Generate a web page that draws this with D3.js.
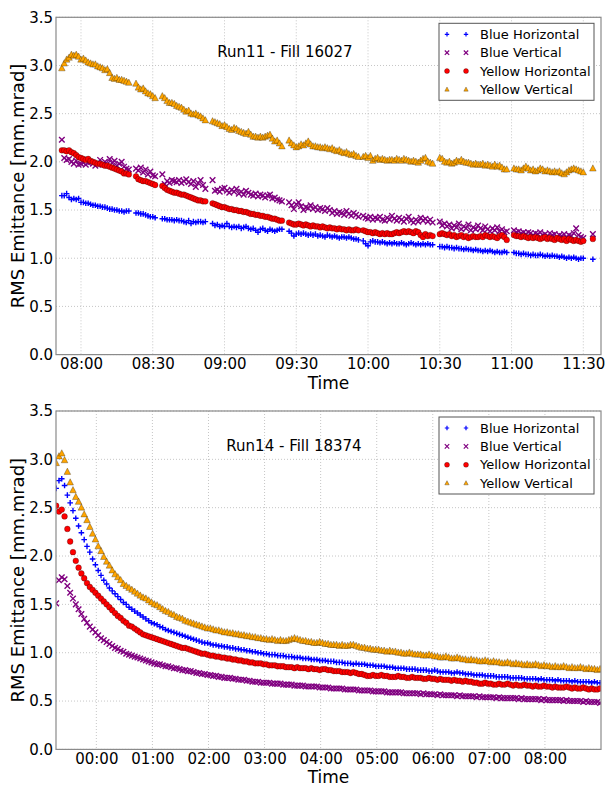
<!DOCTYPE html>
<html lang="en">
<head>
    <meta charset="UTF-8">
    <title>RMS Emittance vs Time</title>
    <script src="https://d3js.org/d3.v7.min.js"></script>
    <style>
body {
    margin: 0;
    background: #fff;
    font-family: "DejaVu Sans", sans-serif;
}
svg {
    display: block;
}
.grid line {
    stroke: #b8b8b8;
    stroke-width: 0.8;
    stroke-dasharray: 1,2;
}
.tick-label {
    font-size: 15px;
    fill: #000;
}
    </style>
</head>
<body>
    <svg id="chart" width="607" height="788"></svg>

    <script>
const seriesNames = ["Blue Horizontal", "Blue Vertical", "Yellow Horizontal", "Yellow Vertical"];
const yTicks = [0, 0.5, 1.0, 1.5, 2.0, 2.5, 3.0, 3.5];

// ---- Run11 - Fill 16027: one reading per minute, in segments
const run11Title = "Run11 - Fill 16027";
const run11Ticks = ["08:00", "08:30", "09:00", "09:30", "10:00", "10:30", "11:00", "11:30"];
const run11SegStarts = ["07:52", "08:23", "08:34", "08:55", "09:27", "09:58", "10:30", "11:01", "11:34"];

const run11BlueH = [
    [1.65,1.65,1.67,1.63,1.61,1.62,1.61,1.62,1.58,1.58,1.57,1.57,1.56,1.55,1.55,1.54,1.54,1.53,1.53,1.52,1.51,1.51,1.50,1.50,1.49,1.49,1.48,1.49,1.49],
    [1.47,1.47,1.46,1.46,1.45,1.44,1.43,1.43,1.42],
    [1.41,1.41,1.40,1.40,1.40,1.39,1.40,1.39,1.39,1.38,1.37,1.39,1.36,1.38,1.37,1.38,1.38,1.37,1.38],
    [1.36,1.34,1.35,1.33,1.34,1.33,1.36,1.33,1.32,1.33,1.32,1.33,1.31,1.32,1.33,1.31,1.30,1.31,1.29,1.27,1.30,1.31,1.29,1.28,1.30,1.29,1.28,1.29,1.30,1.30],
    [1.28,1.26,1.23,1.25,1.26,1.25,1.26,1.25,1.24,1.25,1.24,1.25,1.23,1.24,1.23,1.22,1.24,1.23,1.22,1.23,1.22,1.21,1.22,1.22,1.21,1.22,1.21,1.20,1.20,1.19],
    [1.18,1.15,1.13,1.17,1.18,1.17,1.17,1.16,1.17,1.16,1.15,1.16,1.15,1.16,1.15,1.15,1.16,1.15,1.14,1.15,1.16,1.15,1.14,1.15,1.14,1.15,1.14,1.15,1.14,1.14],
    [1.12,1.12,1.11,1.12,1.11,1.11,1.10,1.11,1.10,1.10,1.09,1.10,1.09,1.09,1.08,1.09,1.08,1.08,1.07,1.08,1.07,1.08,1.07,1.06,1.07,1.06,1.06,1.07,1.06],
    [1.06,1.05,1.05,1.04,1.05,1.04,1.04,1.03,1.04,1.03,1.03,1.04,1.03,1.02,1.03,1.02,1.03,1.02,1.02,1.01,1.02,1.01,1.00,1.01,1.00,1.01,1.00,0.99,1.00,1.00],
    [0.99]
];
const run11BlueV = [
    [2.23,2.04,2.02,2.03,2.00,1.98,2.01,1.97,1.98,1.99,1.97,1.99,2.00,1.98,1.96,1.99,2.02,1.97,2.00,1.98,2.03,1.99,2.01,1.96,1.98,2.00,1.95,1.93,1.92],
    [1.93,1.91,1.94,1.89,1.92,1.87,1.90,1.86,1.85],
    [1.87,1.77,1.80,1.78,1.81,1.80,1.79,1.81,1.78,1.80,1.82,1.79,1.77,1.80,1.74,1.78,1.81,1.76,1.72],
    [1.81,1.70,1.71,1.69,1.72,1.73,1.70,1.68,1.71,1.69,1.72,1.67,1.69,1.66,1.70,1.68,1.66,1.65,1.67,1.64,1.66,1.65,1.63,1.65,1.66,1.62,1.63,1.61,1.60,1.59],
    [1.58,1.55,1.51,1.56,1.58,1.54,1.50,1.53,1.52,1.55,1.51,1.53,1.50,1.52,1.51,1.49,1.52,1.50,1.47,1.49,1.46,1.48,1.47,1.45,1.49,1.46,1.44,1.47,1.45,1.43],
    [1.44,1.42,1.41,1.43,1.40,1.42,1.41,1.43,1.40,1.39,1.42,1.40,1.44,1.41,1.39,1.42,1.40,1.38,1.41,1.43,1.39,1.37,1.40,1.38,1.42,1.39,1.41,1.38,1.40,1.37],
    [1.38,1.34,1.36,1.33,1.35,1.31,1.34,1.32,1.36,1.30,1.33,1.31,1.35,1.29,1.32,1.30,1.34,1.31,1.29,1.33,1.30,1.28,1.31,1.29,1.32,1.28,1.30,1.27,1.28],
    [1.29,1.27,1.28,1.26,1.27,1.25,1.27,1.26,1.24,1.26,1.25,1.27,1.24,1.25,1.23,1.26,1.24,1.25,1.22,1.24,1.23,1.25,1.22,1.24,1.23,1.26,1.31,1.24,1.22,1.21],
    [1.25]
];
const run11YellowH = [
    [2.12,2.12,2.11,2.12,2.10,2.09,2.07,2.05,2.04,2.03,2.02,2.03,2.01,2.00,1.99,1.98,1.98,1.97,1.96,1.96,1.95,1.94,1.93,1.92,1.91,1.90,1.88,1.88,1.87],
    [1.85,1.82,1.81,1.80,1.80,1.79,1.78,1.77,1.76],
    [1.75,1.73,1.71,1.70,1.69,1.68,1.68,1.67,1.66,1.66,1.65,1.64,1.63,1.62,1.61,1.60,1.60,1.59,1.59],
    [1.57,1.56,1.55,1.54,1.53,1.53,1.52,1.51,1.51,1.50,1.50,1.49,1.49,1.48,1.48,1.47,1.46,1.46,1.45,1.45,1.44,1.44,1.43,1.43,1.42,1.41,1.41,1.40,1.39,1.39],
    [1.37,1.36,1.35,1.35,1.36,1.35,1.34,1.35,1.34,1.33,1.34,1.33,1.33,1.32,1.33,1.32,1.31,1.32,1.31,1.31,1.30,1.31,1.30,1.30,1.29,1.30,1.29,1.29,1.30,1.29],
    [1.29,1.28,1.27,1.27,1.26,1.27,1.26,1.25,1.26,1.25,1.26,1.25,1.25,1.26,1.27,1.26,1.27,1.28,1.27,1.28,1.27,1.26,1.28,1.27,1.24,1.22,1.25,1.23,1.24,1.23],
    [1.25,1.26,1.25,1.24,1.25,1.23,1.24,1.22,1.23,1.24,1.22,1.23,1.21,1.22,1.23,1.22,1.22,1.23,1.22,1.24,1.23,1.22,1.23,1.22,1.21,1.23,1.24,1.22,1.19],
    [1.24,1.23,1.23,1.22,1.23,1.22,1.21,1.22,1.21,1.22,1.21,1.20,1.21,1.22,1.20,1.21,1.20,1.19,1.21,1.20,1.19,1.20,1.18,1.20,1.19,1.18,1.19,1.18,1.17,1.18],
    [1.20]
];
const run11YellowV = [
    [2.97,3.02,3.06,3.08,3.11,3.10,3.11,3.09,3.06,3.07,3.05,3.03,3.02,3.01,3.01,2.99,2.98,2.97,2.95,2.96,2.92,2.87,2.86,2.87,2.85,2.85,2.84,2.83,2.82],
    [2.81,2.77,2.75,2.76,2.73,2.71,2.70,2.68,2.66],
    [2.68,2.66,2.63,2.61,2.61,2.60,2.58,2.57,2.56,2.54,2.52,2.53,2.50,2.49,2.50,2.48,2.47,2.45,2.43],
    [2.42,2.41,2.40,2.39,2.37,2.38,2.36,2.34,2.33,2.35,2.34,2.32,2.31,2.30,2.29,2.31,2.28,2.26,2.26,2.25,2.26,2.25,2.26,2.27,2.28,2.24,2.21,2.22,2.19,2.16],
    [2.22,2.19,2.17,2.15,2.16,2.18,2.17,2.19,2.21,2.18,2.16,2.16,2.15,2.15,2.14,2.15,2.14,2.13,2.14,2.12,2.11,2.12,2.10,2.09,2.10,2.08,2.07,2.08,2.06,2.05],
    [2.05,2.06,2.04,2.06,2.01,2.03,2.04,2.02,2.03,2.02,2.01,2.02,2.02,2.01,2.03,2.02,2.01,2.03,2.02,2.01,2.00,2.01,2.00,1.99,2.01,2.03,2.04,2.00,1.99,1.98],
    [2.04,2.03,2.00,1.99,2.00,1.98,1.99,2.01,2.00,2.02,2.00,1.99,1.99,1.98,1.97,1.98,1.97,1.97,1.98,1.96,1.97,1.96,1.95,1.97,1.95,1.96,1.94,1.92,1.92],
    [1.93,1.92,1.92,1.91,1.93,1.95,1.93,1.91,1.92,1.90,1.91,1.93,1.92,1.90,1.91,1.90,1.89,1.90,1.89,1.90,1.88,1.87,1.89,1.91,1.92,1.93,1.92,1.91,1.90,1.89],
    [1.93]
];

// ---- Run14 - Fill 18374: one reading every 3 minutes from 23:17
const run14Title = "Run14 - Fill 18374";
const run14Ticks = ["00:00", "01:00", "02:00", "03:00", "04:00", "05:00", "06:00", "07:00", "08:00"];
const run14Start = "23:17";
const run14StepMin = 3;

const run14BlueH = [
    2.70,2.78,2.80,2.73,2.63,2.55,2.47,2.39,2.31,2.24,
    2.17,2.10,2.04,1.97,1.91,1.85,1.80,1.75,1.71,1.67,
    1.64,1.61,1.58,1.55,1.52,1.50,1.47,1.45,1.43,1.41,
    1.39,1.37,1.35,1.33,1.31,1.30,1.29,1.27,1.26,1.24,
    1.23,1.22,1.21,1.20,1.19,1.18,1.17,1.16,1.15,1.14,
    1.13,1.12,1.11,1.10,1.10,1.09,1.08,1.08,1.07,1.07,
    1.06,1.06,1.05,1.05,1.04,1.04,1.03,1.03,1.02,1.02,
    1.01,1.01,1.00,1.00,0.99,0.99,0.98,0.98,0.98,0.97,
    0.97,0.97,0.96,0.96,0.96,0.95,0.95,0.95,0.94,0.94,
    0.94,0.93,0.93,0.93,0.92,0.92,0.92,0.91,0.91,0.91,
    0.90,0.90,0.90,0.89,0.89,0.89,0.88,0.89,0.88,0.88,
    0.88,0.87,0.87,0.87,0.86,0.86,0.86,0.86,0.85,0.85,
    0.85,0.84,0.84,0.84,0.84,0.83,0.83,0.83,0.83,0.82,
    0.82,0.82,0.82,0.81,0.81,0.82,0.81,0.80,0.80,0.80,
    0.80,0.79,0.79,0.80,0.79,0.79,0.78,0.78,0.78,0.77,
    0.77,0.77,0.77,0.76,0.76,0.76,0.76,0.75,0.75,0.75,
    0.75,0.75,0.74,0.74,0.74,0.74,0.74,0.73,0.73,0.73,
    0.73,0.73,0.72,0.73,0.72,0.72,0.72,0.72,0.71,0.72,
    0.71,0.71,0.71,0.71,0.70,0.71,0.70,0.70,0.70,0.70,
    0.70,0.69,0.70,0.69,0.69
];
const run14BlueV = [
    1.51,1.75,1.78,1.76,1.69,1.62,1.56,1.50,1.45,1.40,
    1.35,1.31,1.27,1.24,1.21,1.18,1.15,1.13,1.11,1.09,
    1.07,1.05,1.04,1.02,1.01,0.99,0.98,0.97,0.96,0.95,
    0.94,0.93,0.92,0.91,0.90,0.89,0.88,0.88,0.87,0.86,
    0.86,0.85,0.84,0.84,0.83,0.82,0.82,0.81,0.81,0.80,
    0.79,0.79,0.78,0.78,0.77,0.77,0.76,0.76,0.75,0.75,
    0.74,0.74,0.74,0.73,0.73,0.72,0.72,0.72,0.71,0.71,
    0.70,0.70,0.70,0.69,0.69,0.69,0.69,0.68,0.68,0.68,
    0.68,0.67,0.67,0.67,0.67,0.66,0.66,0.66,0.66,0.65,
    0.65,0.65,0.65,0.65,0.64,0.64,0.64,0.64,0.63,0.63,
    0.63,0.63,0.63,0.62,0.62,0.62,0.62,0.62,0.61,0.61,
    0.61,0.61,0.61,0.60,0.60,0.60,0.60,0.60,0.59,0.59,
    0.59,0.59,0.59,0.59,0.58,0.58,0.58,0.58,0.58,0.58,
    0.57,0.58,0.57,0.57,0.57,0.57,0.56,0.57,0.56,0.56,
    0.56,0.56,0.56,0.55,0.56,0.55,0.55,0.55,0.55,0.55,
    0.54,0.55,0.54,0.54,0.54,0.54,0.54,0.53,0.54,0.53,
    0.53,0.53,0.53,0.53,0.53,0.52,0.53,0.52,0.52,0.52,
    0.52,0.52,0.52,0.51,0.52,0.51,0.51,0.51,0.51,0.51,
    0.51,0.50,0.51,0.50,0.50,0.50,0.50,0.50,0.49,0.50,
    0.49,0.49,0.49,0.49,0.48
];
const run14YellowH = [
    2.52,2.46,2.48,2.41,2.28,2.15,2.04,1.95,1.88,1.82,
    1.77,1.72,1.68,1.65,1.62,1.59,1.56,1.53,1.50,1.47,
    1.44,1.41,1.38,1.36,1.33,1.31,1.28,1.27,1.25,1.23,
    1.21,1.19,1.18,1.17,1.16,1.15,1.14,1.13,1.12,1.11,
    1.10,1.09,1.08,1.07,1.06,1.05,1.05,1.04,1.03,1.02,
    1.01,1.00,0.99,0.99,0.98,0.97,0.97,0.96,0.96,0.95,
    0.95,0.94,0.94,0.93,0.93,0.92,0.92,0.91,0.91,0.90,
    0.90,0.89,0.89,0.89,0.88,0.88,0.87,0.87,0.87,0.86,
    0.86,0.86,0.85,0.85,0.85,0.84,0.85,0.84,0.84,0.84,
    0.83,0.84,0.83,0.83,0.82,0.83,0.83,0.82,0.82,0.81,
    0.81,0.81,0.80,0.80,0.80,0.79,0.80,0.79,0.78,0.78,
    0.77,0.76,0.76,0.77,0.76,0.76,0.77,0.76,0.76,0.75,
    0.75,0.75,0.76,0.75,0.75,0.74,0.74,0.75,0.74,0.74,
    0.74,0.73,0.73,0.74,0.73,0.73,0.72,0.73,0.72,0.72,
    0.72,0.71,0.72,0.71,0.71,0.70,0.71,0.70,0.70,0.69,
    0.69,0.68,0.68,0.69,0.68,0.68,0.67,0.67,0.68,0.67,
    0.67,0.68,0.67,0.66,0.67,0.66,0.66,0.67,0.66,0.66,
    0.65,0.66,0.65,0.65,0.66,0.65,0.65,0.64,0.65,0.64,
    0.64,0.64,0.65,0.64,0.63,0.64,0.63,0.63,0.64,0.63,
    0.62,0.63,0.62,0.62,0.63
];
const run14YellowV = [
    2.96,3.03,3.06,2.99,2.87,2.76,2.68,2.61,2.56,2.50,
    2.43,2.37,2.30,2.23,2.17,2.10,2.05,1.99,1.94,1.90,
    1.85,1.81,1.78,1.75,1.71,1.69,1.67,1.65,1.63,1.61,
    1.59,1.57,1.56,1.54,1.52,1.50,1.49,1.47,1.45,1.43,
    1.42,1.40,1.39,1.37,1.36,1.35,1.33,1.32,1.31,1.30,
    1.29,1.28,1.27,1.26,1.25,1.25,1.24,1.23,1.23,1.22,
    1.21,1.21,1.20,1.20,1.19,1.19,1.18,1.18,1.17,1.17,
    1.16,1.16,1.15,1.15,1.14,1.14,1.13,1.14,1.13,1.12,
    1.13,1.12,1.12,1.13,1.14,1.15,1.14,1.13,1.12,1.12,
    1.11,1.11,1.10,1.10,1.11,1.10,1.09,1.09,1.08,1.08,
    1.08,1.07,1.08,1.07,1.07,1.08,1.08,1.07,1.06,1.05,
    1.05,1.04,1.04,1.03,1.03,1.03,1.02,1.02,1.01,1.02,
    1.01,1.01,1.00,1.00,0.99,0.99,1.00,0.99,0.98,0.98,
    0.98,0.97,0.97,0.98,0.97,0.96,0.96,0.95,0.95,0.96,
    0.95,0.94,0.94,0.95,0.94,0.93,0.93,0.92,0.93,0.92,
    0.92,0.91,0.91,0.92,0.91,0.90,0.91,0.90,0.90,0.89,
    0.89,0.90,0.89,0.88,0.89,0.88,0.88,0.87,0.88,0.87,
    0.87,0.88,0.87,0.86,0.87,0.86,0.86,0.85,0.86,0.85,
    0.85,0.86,0.85,0.84,0.85,0.84,0.84,0.85,0.84,0.83,
    0.84,0.83,0.83,0.82,0.83
];

// ---- helpers
const day = "2000-01-02";
const prevDay = "2000-01-01";
function at(d, hm) { return new Date(d + "T" + hm + ":00"); }

const styles = [
    { color: "#0000ff", kind: "plus" },
    { color: "#800080", kind: "cross" },
    { color: "#ff0000", kind: "circle" },
    { color: "#ffa500", kind: "triangle" }
];

function markerPath(kind, s) {
    if (kind === "plus") return `M${-s},0H${s}M0,${-s}V${s}`;
    if (kind === "cross") return `M${-s},${-s}L${s},${s}M${-s},${s}L${s},${-s}`;
    if (kind === "triangle") return `M0,${-s * 1.15}L${s},${s * 0.75}L${-s},${s * 0.75}Z`;
    return d3.symbol(d3.symbolCircle, Math.PI * s * s)();
}

function styleMarker(sel, st, lw) {
    if (st.kind === "plus" || st.kind === "cross") {
        sel.attr("fill", "none").attr("stroke", st.color).attr("stroke-width", lw);
    } else {
        sel.attr("fill", st.color).attr("stroke", "#000").attr("stroke-width", 0.5).attr("stroke-opacity", 0.55);
    }
}

// build points
function run11Points(segs) {
    const pts = [];
    segs.forEach((seg, k) => {
        const t0 = at(day, run11SegStarts[k]);
        seg.forEach((v, j) => pts.push({ t: d3.timeMinute.offset(t0, j), v }));
    });
    return pts;
}
function run14Points(vals) {
    const t0 = at(prevDay, run14Start);
    return vals.map((v, i) => ({ t: d3.timeMinute.offset(t0, i * run14StepMin), v }));
}

const svg = d3.select("#chart");
const left = 56, right = 601;

function drawPanel(cfg) {
    const x = d3.scaleTime().domain(cfg.domain).range([left, right]);
    const y = d3.scaleLinear().domain([0, 3.5]).range([cfg.bottom, cfg.top]);
    const g = svg.append("g");

    const clipId = "clip" + cfg.id;
    g.append("clipPath").attr("id", clipId)
        .append("rect").attr("x", left).attr("y", cfg.top)
        .attr("width", right - left).attr("height", cfg.bottom - cfg.top);

    // grid
    const grid = g.append("g").attr("class", "grid");
    grid.selectAll(".gx").data(cfg.ticks).join("line")
        .attr("x1", d => x(d)).attr("x2", d => x(d))
        .attr("y1", cfg.top).attr("y2", cfg.bottom);
    grid.selectAll(".gy").data(yTicks).join("line")
        .attr("x1", left).attr("x2", right)
        .attr("y1", d => y(d)).attr("y2", d => y(d));

    // axes (labels only, matplotlib-like)
    const ax = g.append("g").attr("transform", `translate(0,${cfg.bottom})`)
        .call(d3.axisBottom(x).tickValues(cfg.ticks).tickFormat(d3.timeFormat("%H:%M")).tickSize(0).tickPadding(4));
    ax.select(".domain").remove();
    ax.selectAll("text").attr("class", "tick-label").attr("font-family", "DejaVu Sans").attr("dy", "0.71em");

    const ay = g.append("g").attr("transform", `translate(${left},0)`)
        .call(d3.axisLeft(y).tickValues(yTicks).tickFormat(d3.format(".1f")).tickSize(0).tickPadding(3));
    ay.select(".domain").remove();
    ay.selectAll("text").attr("class", "tick-label").attr("font-family", "DejaVu Sans");

    // data
    const plot = g.append("g").attr("clip-path", `url(#${clipId})`);
    cfg.series.forEach((pts, k) => {
        const st = styles[k];
        const size = st.kind === "circle" ? 2.9 : st.kind === "triangle" ? 3.3 : 2.8;
        const m = plot.append("g").selectAll("path").data(pts).join("path")
            .attr("transform", d => `translate(${x(d.t)},${y(d.v)})`)
            .attr("d", markerPath(st.kind, size));
        styleMarker(m, st, 1.4);
    });

    // frame
    g.append("rect").attr("x", left).attr("y", cfg.top)
        .attr("width", right - left).attr("height", cfg.bottom - cfg.top)
        .attr("fill", "none").attr("stroke", "#8a8a8a").attr("stroke-width", 1.2);

    // title in plot
    g.append("text").attr("x", cfg.titleX).attr("y", cfg.top + 40)
        .attr("text-anchor", "middle").attr("font-size", 15).text(cfg.title);

    // axis titles
    g.append("text").attr("x", (left + right) / 2).attr("y", cfg.bottom + 34)
        .attr("text-anchor", "middle").attr("font-size", 17).text("Time");
    g.append("text")
        .attr("transform", `translate(24,${(cfg.top + cfg.bottom) / 2}) rotate(-90)`)
        .attr("text-anchor", "middle").attr("font-size", 18).text("RMS Emittance [mm.mrad]");

    // legend
    const lg = g.append("g").attr("transform", `translate(439,${cfg.top + 6})`);
    lg.append("rect").attr("width", 155).attr("height", 77)
        .attr("fill", "#fff").attr("stroke", "#555").attr("stroke-width", 1);
    seriesNames.forEach((name, k) => {
        const st = styles[k];
        const ry = 11 + k * 18.4;
        [8, 27].forEach(mx => {
            const m = lg.append("path").attr("transform", `translate(${mx},${ry})`)
                .attr("d", markerPath(st.kind, st.kind === "circle" ? 2.5 : 2.2));
            styleMarker(m, st, 1.2);
        });
        lg.append("text").attr("x", 41).attr("y", ry).attr("dy", "0.35em")
            .attr("font-size", 13).text(name);
    });
}

drawPanel({
    id: 1, top: 17.3, bottom: 354.6, title: run11Title, titleX: 285,
    domain: [new Date(day + "T07:49:33"), new Date(day + "T11:37:24")],
    ticks: run11Ticks.map(t => at(day, t)),
    series: [run11BlueH, run11BlueV, run11YellowH, run11YellowV].map(run11Points)
});

drawPanel({
    id: 2, top: 411, bottom: 749.4, title: run14Title, titleX: 294,
    domain: [new Date(prevDay + "T23:16:50"), new Date(day + "T09:00:00")],
    ticks: run14Ticks.map(t => at(day, t)),
    series: [run14BlueH, run14BlueV, run14YellowH, run14YellowV].map(run14Points)
});
    </script>
</body>
</html>
